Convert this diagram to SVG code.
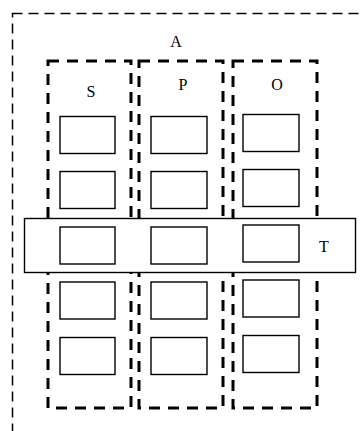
<svg xmlns="http://www.w3.org/2000/svg" width="364" height="431" viewBox="0 0 364 431">
<style>
.outer{fill:none;stroke:#000;stroke-width:1.5;stroke-dasharray:10,6}
.col{fill:none;stroke:#000;stroke-width:3;stroke-dasharray:11,8}
.box{fill:#fff;stroke:#000;stroke-width:1.4}
.band{fill:#fff;stroke:#000;stroke-width:1.4}
text{font-family:"Liberation Serif",serif;font-size:16px;fill:#000;text-anchor:middle}
</style>
<rect fill="#fff" width="364" height="431"/>
<g id="A">
<rect class="outer" x="12.5" y="13.5" width="370" height="440"/>
<text x="176" y="47">A</text>
</g>
<g id="S">
<rect class="col" x="48" y="61" width="83" height="347"/>
<text x="91" y="97">S</text>
</g>
<g id="P">
<rect class="col" x="139" y="61" width="84" height="347"/>
<text x="183" y="90">P</text>
</g>
<g id="O">
<rect class="col" x="233" y="61" width="84" height="347"/>
<text x="277" y="90">O</text>
</g>
<g id="T">
<rect class="band" x="24.5" y="218.5" width="331" height="54"/>
<text x="324" y="252">T</text>
</g>
<g id="boxes">
<rect class="box" x="60" y="116.5" width="55" height="37"/>
<rect class="box" x="60" y="171.5" width="55" height="37"/>
<rect class="box" x="60" y="227" width="55" height="37"/>
<rect class="box" x="60" y="282" width="55" height="37"/>
<rect class="box" x="60" y="337.5" width="55" height="37"/>
<rect class="box" x="151" y="116.5" width="56" height="37"/>
<rect class="box" x="151" y="171.5" width="56" height="37"/>
<rect class="box" x="151" y="227" width="56" height="37"/>
<rect class="box" x="151" y="282" width="56" height="37"/>
<rect class="box" x="151" y="337.5" width="56" height="37"/>
<rect class="box" x="243" y="114.5" width="56" height="37"/>
<rect class="box" x="243" y="169.5" width="56" height="37"/>
<rect class="box" x="243" y="225" width="56" height="37"/>
<rect class="box" x="243" y="280" width="56" height="37"/>
<rect class="box" x="243" y="335.5" width="56" height="37"/>
</g>
<g id="connectors"></g>
</svg>
